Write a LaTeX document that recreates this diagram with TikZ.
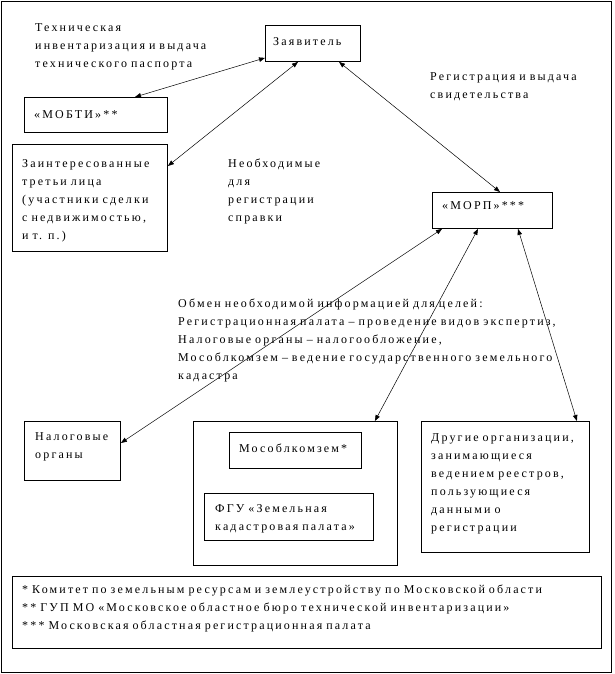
\documentclass[tikz,border=0pt]{standalone}
\usepackage{fontspec}
\setmainfont{Liberation Serif}[LetterSpace=18]
\usepackage{xcolor}
\usepackage{tikz}
\usetikzlibrary{calc,arrows.meta}
\definecolor{ink}{HTML}{000000}
\definecolor{paper}{HTML}{FFFFFF}
\tikzset{
  frame/.style={draw=ink, line width=0.9pt, anchor=north west, inner sep=0pt},
  card/.style={draw=ink, line width=0.9pt, anchor=north west, inner sep=0pt},
  txt/.style={
    anchor=base west,
    inner sep=0pt,
    align=left,
    text width=600pt,
    text=ink,
    font=\rmfamily\fontsize{12pt}{18pt}\selectfont
  },
  link/.style={draw=ink, line width=0.5pt, >={Triangle[length=6pt,width=4.5pt]}, <->}
}

\begin{document}
\begin{tikzpicture}[x=1pt,y=-1pt]
  \useasboundingbox[fill=paper] (0,0) rectangle (614,674);
  \node[frame, minimum width=610pt, minimum height=671pt] (border) at (1,1) {};

  % boxes
  \node[card, minimum width=95pt,  minimum height=36pt]  (zayav) at (265,25) {};
  \node[card, minimum width=143pt, minimum height=35pt]  (mobti) at (24,97) {};
  \node[card, minimum width=155pt, minimum height=107pt] (third) at (12,144) {};
  \node[card, minimum width=120pt, minimum height=36pt]  (morp)  at (432,192) {};
  \node[card, minimum width=96pt,  minimum height=59pt]  (nalog) at (24,421) {};
  \node[card, minimum width=204pt, minimum height=144pt] (zem)   at (193,421) {};
  \node[card, minimum width=132pt, minimum height=36pt]  (mokz)  at (229,432) {};
  \node[card, minimum width=169pt, minimum height=47pt]  (fgu)   at (204,493) {};
  \node[card, minimum width=168pt, minimum height=131pt] (other) at (421,421) {};
  \node[card, minimum width=589pt, minimum height=72pt]  (notes) at (12,576) {};

  % texts
  \node[txt] (techT) at (35,32) {Техническая\\инвентаризация и выдача\\технического паспорта};
  \node[txt] (zayavT) at (273,46) {Заявитель};
  \node[txt] (mobtiT) at (34,118) {«МОБТИ»**};
  \node[txt] (thirdT) at (22,167) {Заинтересованные\\третьи лица\\(участники сделки\\с недвижимостью,\\и т. п.)};
  \node[txt] (needT) at (228,167) {Необходимые\\для\\регистрации\\справки};
  \node[txt] (regT) at (430,81) {Регистрация и выдача\\свидетельства};
  \node[txt] (morpT) at (442,209) {«МОРП»***};
  \node[txt] (swapT) at (178,307) {Обмен необходимой информацией для целей:\\Регистрационная палата – проведение видов экспертиз,\\Налоговые органы – налогообложение,\\Мособлкомзем – ведение государственного земельного\\кадастра};
  \node[txt] (nalogT) at (35,440) {Налоговые\\органы};
  \node[txt] (mokzT) at (239,452) {Мособлкомзем*};
  \node[txt] (fguT) at (215,512) {ФГУ «Земельная\\кадастровая палата»};
  \node[txt] (otherT) at (431,441) {Другие организации,\\занимающиеся\\ведением реестров,\\пользующиеся\\данными о\\регистрации};
  \node[txt] (notesT) at (22,593) {* Комитет по земельным ресурсам и землеустройству по Московской области\\{}** ГУП МО «Московское областное бюро технической инвентаризации»\\{}*** Московская областная регистрационная палата};

  % connectors
  \draw[link] ([yshift=4pt]zayav.south west) -- ([xshift=111pt]mobti.north west);
  \draw[link] ([xshift=33pt]zayav.south west) -- ([yshift=-22pt]third.north east);
  \draw[link] ([xshift=74pt]zayav.south west) -- ([xshift=68pt]morp.north west);
  \draw[link] ([xshift=10pt]morp.south west) -- ([yshift=-22pt]nalog.north east);
  \draw[link] ([xshift=46pt]morp.south west) -- ([xshift=-23pt]zem.north east);
  \draw[link] ([xshift=86pt]morp.south west) -- ([xshift=-13pt]other.north east);
\end{tikzpicture}
\end{document}
